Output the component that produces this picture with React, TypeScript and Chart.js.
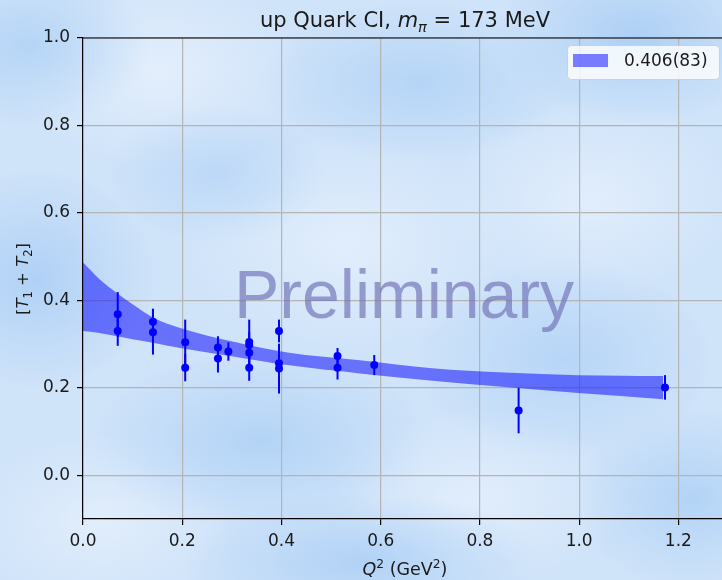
import React, { useEffect, useRef } from 'react';
import { Chart, registerables } from 'chart.js';
Chart.register(...registerables);

// ---- data ----
const qsq = [0.070, 0.070, 0.141, 0.141, 0.206, 0.206, 0.272, 0.272, 0.293, 0.335, 0.335, 0.335, 0.335, 0.395, 0.395, 0.395, 0.513, 0.513, 0.587, 0.878, 1.173];
const vals = [0.368, 0.330, 0.351, 0.327, 0.304, 0.246, 0.292, 0.267, 0.283, 0.305, 0.298, 0.280, 0.246, 0.330, 0.256, 0.244, 0.273, 0.246, 0.252, 0.148, 0.201];
const errs = [0.051, 0.034, 0.030, 0.051, 0.052, 0.031, 0.026, 0.032, 0.021, 0.051, 0.030, 0.030, 0.030, 0.026, 0.030, 0.057, 0.018, 0.027, 0.023, 0.052, 0.028];

const bandQ = [0, 0.03, 0.069, 0.10, 0.141, 0.196, 0.306, 0.412, 0.558, 0.704, 0.85, 0.998, 1.169];
const bandUpper = [0.487, 0.452, 0.416, 0.391, 0.361, 0.337, 0.305, 0.281, 0.263, 0.245, 0.235, 0.229, 0.227];
const bandLower = [0.330, 0.326, 0.318, 0.311, 0.303, 0.291, 0.271, 0.252, 0.233, 0.216, 0.202, 0.188, 0.174];

const xTicks = [0, 0.2, 0.4, 0.6, 0.8, 1.0, 1.2];
const yTicks = [0, 0.2, 0.4, 0.6, 0.8, 1.0];
const legendLabel = '0.406(83)';
const watermark = 'Preliminary';

const FONT = '"DejaVu Sans", "Liberation Sans", sans-serif';

type Run = { t: string; it?: boolean; sub?: boolean; sup?: boolean };

function drawRich(ctx: CanvasRenderingContext2D, runs: Run[], x: number, y: number, size: number) {
  const fontFor = (r: Run) => `${r.it ? 'italic ' : ''}${r.sub || r.sup ? size * 0.7 : size}px ${FONT}`;
  let total = 0;
  const widths = runs.map((r) => {
    ctx.font = fontFor(r);
    const w = ctx.measureText(r.t).width;
    total += w;
    return w;
  });
  let cx = x - total / 2;
  ctx.textAlign = 'left';
  ctx.textBaseline = 'alphabetic';
  runs.forEach((r, i) => {
    ctx.font = fontFor(r);
    const dy = r.sub ? size * 0.22 : r.sup ? -size * 0.38 : 0;
    ctx.fillText(r.t, cx, y + dy);
    cx += widths[i];
  });
}

const deco = {
  id: 'deco',
  beforeDatasetDraw(chart: any, args: any) {
    if (args.index !== 2) return;
    const { ctx, scales } = chart;
    ctx.save();
    ctx.strokeStyle = '#0000ff';
    ctx.lineWidth = 2;
    qsq.forEach((q, i) => {
      const px = scales.x.getPixelForValue(q);
      ctx.beginPath();
      ctx.moveTo(px, scales.y.getPixelForValue(vals[i] - errs[i]));
      ctx.lineTo(px, scales.y.getPixelForValue(vals[i] + errs[i]));
      ctx.stroke();
    });
    ctx.restore();
  },
  afterDatasetsDraw(chart: any) {
    const { ctx } = chart;
    ctx.save();
    ctx.font = `68px "Liberation Sans", Arial, sans-serif`;
    ctx.fillStyle = 'rgba(110,110,180,0.65)';
    ctx.textAlign = 'center';
    ctx.textBaseline = 'alphabetic';
    ctx.fillText(watermark, 404, 318);
    ctx.restore();
  },
  afterDraw(chart: any) {
    const { ctx, chartArea } = chart;
    ctx.save();
    ctx.strokeStyle = '#000';
    ctx.lineWidth = 1.2;
    ctx.beginPath();
    ctx.moveTo(chartArea.left, chartArea.top);
    ctx.lineTo(chartArea.right, chartArea.top);
    ctx.lineTo(chartArea.right, chartArea.bottom);
    ctx.stroke();

    ctx.fillStyle = '#1a1a1a';
    drawRich(ctx, [{ t: 'up Quark CI, ' }, { t: 'm', it: true }, { t: 'π', it: true, sub: true }, { t: ' = 173 MeV' }], 405, 27, 21);
    drawRich(ctx, [{ t: 'Q', it: true }, { t: '2', sup: true }, { t: ' (GeV' }, { t: '2', sup: true }, { t: ')' }], 405, 575, 17.5);
    ctx.save();
    ctx.translate(28, 279);
    ctx.rotate(-Math.PI / 2);
    drawRich(ctx, [{ t: '[' }, { t: 'T', it: true }, { t: '1', sub: true }, { t: ' + ' }, { t: 'T', it: true }, { t: '2', sub: true }, { t: ']' }], 0, 0, 16.5);
    ctx.restore();

    ctx.fillStyle = 'rgba(255,255,255,0.8)';
    ctx.strokeStyle = '#d0d0d0';
    ctx.lineWidth = 1;
    ctx.beginPath();
    (ctx as any).roundRect(567.5, 45.5, 152, 34, 4);
    ctx.fill();
    ctx.stroke();
    ctx.fillStyle = 'rgba(0,0,255,0.5)';
    ctx.fillRect(573, 54, 35, 13);
    ctx.fillStyle = '#1a1a1a';
    ctx.font = `17px ${FONT}`;
    ctx.textAlign = 'left';
    ctx.textBaseline = 'middle';
    ctx.fillText(legendLabel, 624, 62);
    ctx.restore();
  },
};

const background = [
  'radial-gradient(ellipse 140px 90px at 88% 6%, rgba(172,207,245,0.95), rgba(172,207,245,0) 100%)',
  'radial-gradient(ellipse 160px 80px at 58% 14%, rgba(178,211,246,0.9), rgba(178,211,246,0) 100%)',
  'radial-gradient(ellipse 120px 110px at 5% 48%, rgba(174,208,246,0.95), rgba(174,208,246,0) 100%)',
  'radial-gradient(ellipse 120px 80px at 4% 8%, rgba(178,211,246,0.9), rgba(178,211,246,0) 100%)',
  'radial-gradient(ellipse 170px 90px at 36% 76%, rgba(176,210,246,0.9), rgba(176,210,246,0) 100%)',
  'radial-gradient(ellipse 150px 100px at 78% 62%, rgba(180,212,247,0.9), rgba(180,212,247,0) 100%)',
  'radial-gradient(ellipse 180px 70px at 50% 97%, rgba(174,208,246,0.9), rgba(174,208,246,0) 100%)',
  'radial-gradient(ellipse 120px 90px at 96% 86%, rgba(176,210,246,0.9), rgba(176,210,246,0) 100%)',
  'radial-gradient(ellipse 110px 70px at 30% 30%, rgba(184,214,247,0.8), rgba(184,214,247,0) 100%)',
  'radial-gradient(ellipse 150px 100px at 22% 12%, rgba(228,239,252,0.95), rgba(228,239,252,0) 100%)',
  'radial-gradient(ellipse 170px 110px at 48% 42%, rgba(226,238,252,0.95), rgba(226,238,252,0) 100%)',
  'radial-gradient(ellipse 150px 100px at 82% 34%, rgba(226,238,252,0.95), rgba(226,238,252,0) 100%)',
  'radial-gradient(ellipse 140px 90px at 14% 90%, rgba(226,238,252,0.95), rgba(226,238,252,0) 100%)',
  'radial-gradient(ellipse 150px 90px at 66% 86%, rgba(226,238,252,0.95), rgba(226,238,252,0) 100%)',
  '#cfe3f9',
].join(', ');

export default function App() {
  const ref = useRef<HTMLCanvasElement>(null);
  useEffect(() => {
    if (!ref.current) return;
    const chart = new Chart(ref.current, {
      type: 'scatter',
      data: {
        datasets: [
          {
            type: 'line',
            data: bandQ.map((q, i) => ({ x: q, y: bandLower[i] })),
            borderWidth: 0,
            borderColor: 'rgba(0,0,0,0)',
            pointRadius: 0,
            fill: false,
            cubicInterpolationMode: 'monotone',
            order: 2,
          } as any,
          {
            type: 'line',
            data: bandQ.map((q, i) => ({ x: q, y: bandUpper[i] })),
            borderWidth: 0,
            borderColor: 'rgba(0,0,0,0)',
            backgroundColor: 'rgba(0,0,255,0.5)',
            pointRadius: 0,
            fill: '-1',
            cubicInterpolationMode: 'monotone',
            order: 1,
          } as any,
          {
            type: 'scatter',
            data: qsq.map((q, i) => ({ x: q, y: vals[i] })),
            pointRadius: 4,
            backgroundColor: '#0000ff',
            borderWidth: 0,
            order: 0,
          } as any,
        ],
      },
      options: {
        responsive: false,
        animation: false,
        events: [],
        layout: { padding: { top: 38, right: 12, left: 0, bottom: 0 } },
        plugins: { legend: { display: false }, tooltip: { enabled: false }, title: { display: false } },
        scales: {
          x: {
            type: 'linear',
            min: 0,
            max: 1.3,
            afterBuildTicks: (s: any) => { s.ticks = xTicks.map((v) => ({ value: v })); },
            afterFit: (s: any) => { s.height = 61; },
            grid: { color: '#b4b4b4', lineWidth: 1.2, tickColor: '#000', tickLength: 6 },
            border: { color: '#000', width: 1.2 },
            ticks: { color: '#1a1a1a', font: { family: FONT, size: 17 }, padding: 6, maxRotation: 0, callback: (v: any) => Number(v).toFixed(1) },
          },
          y: {
            type: 'linear',
            min: -0.1,
            max: 1.0,
            afterBuildTicks: (s: any) => { s.ticks = yTicks.map((v) => ({ value: v })); },
            afterFit: (s: any) => { s.width = 83; },
            grid: { color: '#b4b4b4', lineWidth: 1.2, tickColor: '#000', tickLength: 6 },
            border: { color: '#000', width: 1.2 },
            ticks: { color: '#1a1a1a', font: { family: FONT, size: 17 }, padding: 7, callback: (v: any) => Number(v).toFixed(1) },
          },
        },
      },
      plugins: [deco],
    });
    return () => chart.destroy();
  }, []);
  return (
    <div style={{ position: 'fixed', left: 0, top: 0, width: 722, height: 580, overflow: 'hidden', background }}>
      <canvas ref={ref} width={740} height={580} style={{ width: 740, height: 580, display: 'block' }} />
    </div>
  );
}
